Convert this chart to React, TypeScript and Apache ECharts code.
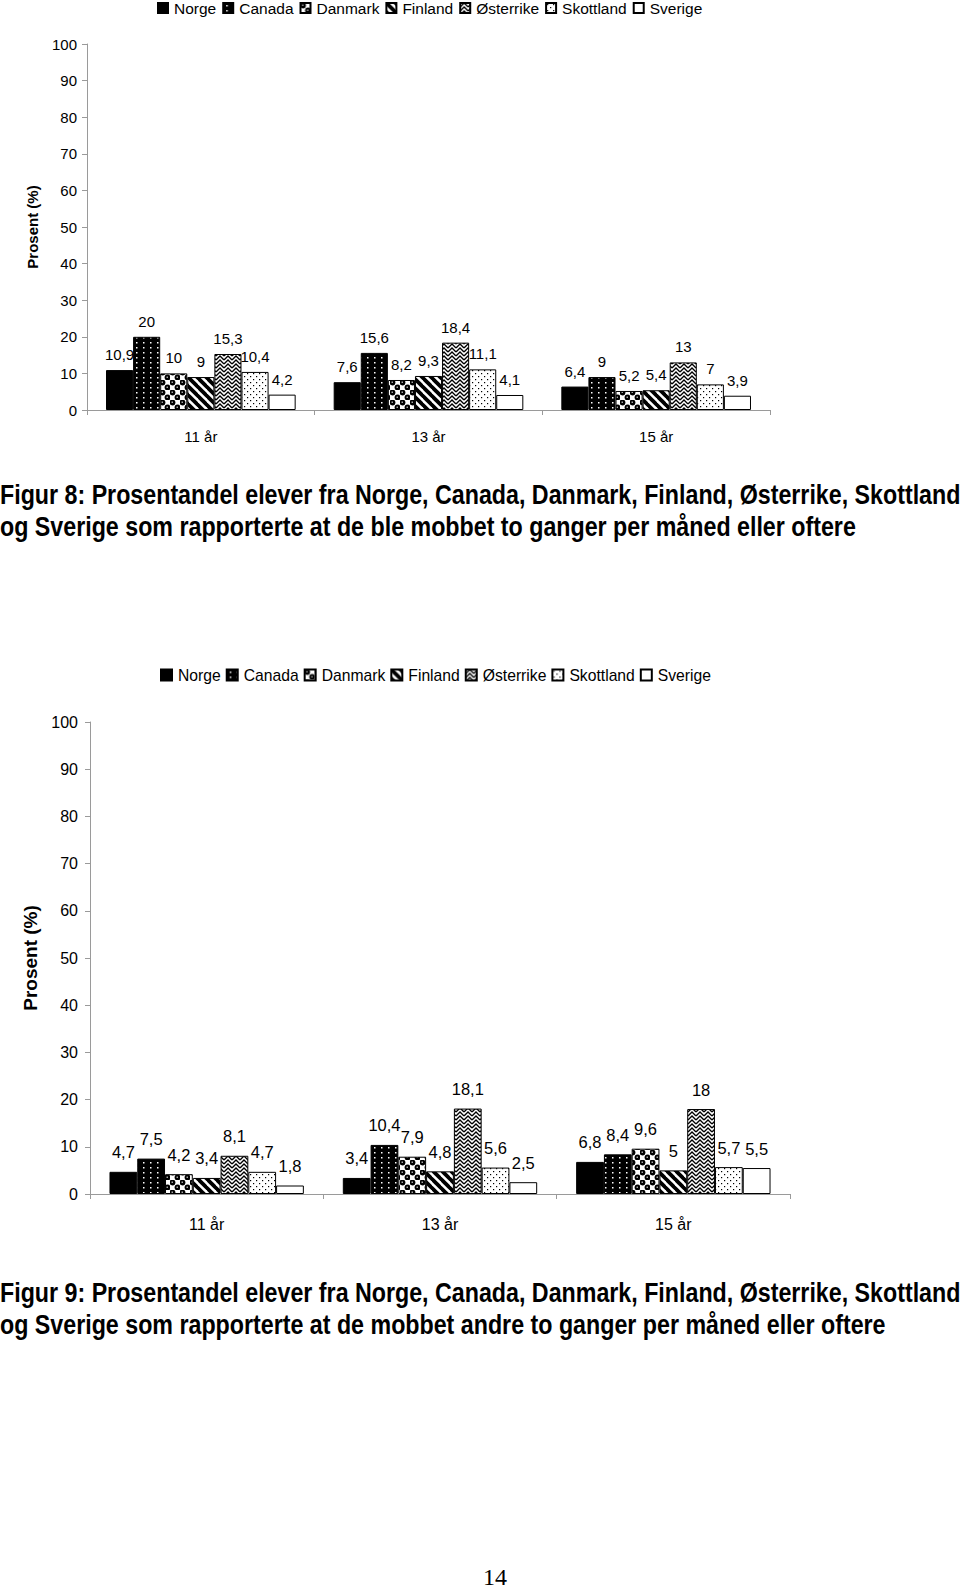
import React, { useEffect, useRef } from "react";
import * as echarts from "echarts";

const countries = ["Norge", "Canada", "Danmark", "Finland", "Østerrike", "Skottland", "Sverige"];
const ages = ["11 år", "13 år", "15 år"];

// Figur 8 values (per country, by age 11, 13, 15)
const f8Norge = [10.9, 7.6, 6.4];
const f8Canada = [20, 15.6, 9];
const f8Danmark = [10, 8.2, 5.2];
const f8Finland = [9, 9.3, 5.4];
const f8Osterrike = [15.3, 18.4, 13];
const f8Skottland = [10.4, 11.1, 7];
const f8Sverige = [4.2, 4.1, 3.9];

// Figur 9 values
const f9Norge = [4.7, 3.4, 6.8];
const f9Canada = [7.5, 10.4, 8.4];
const f9Danmark = [4.2, 7.9, 9.6];
const f9Finland = [3.4, 4.8, 5];
const f9Osterrike = [8.1, 18.1, 18];
const f9Skottland = [4.7, 5.6, 5.7];
const f9Sverige = [1.8, 2.5, 5.5];

const fig8Data = [f8Norge, f8Canada, f8Danmark, f8Finland, f8Osterrike, f8Skottland, f8Sverige];
const fig9Data = [f9Norge, f9Canada, f9Danmark, f9Finland, f9Osterrike, f9Skottland, f9Sverige];

const title8a = "Figur 8: Prosentandel elever fra Norge, Canada, Danmark, Finland, Østerrike, Skottland";
const title8b = "og Sverige som rapporterte at de ble mobbet to ganger per måned eller oftere";
const title9a = "Figur 9: Prosentandel elever fra Norge, Canada, Danmark, Finland, Østerrike, Skottland";
const title9b = "og Sverige som rapporterte at de mobbet andre to ganger per måned eller oftere";
const pageNo = "14";

const SANS = "'Liberation Sans', Arial, sans-serif";

function makeCanvas(w: number, h: number, draw: (ctx: CanvasRenderingContext2D) => void) {
  const c = document.createElement("canvas");
  c.width = w;
  c.height = h;
  const ctx = c.getContext("2d")!;
  draw(ctx);
  return c;
}

function makeFills(): any[] {
  const canada = makeCanvas(7, 5, (ctx) => {
    ctx.fillStyle = "#000";
    ctx.fillRect(0, 0, 7, 5);
    ctx.fillStyle = "#fff";
    ctx.fillRect(3, 2, 1.5, 1.5);
  });
  const danmark = makeCanvas(10, 10, (ctx) => {
    ctx.fillStyle = "#fff";
    ctx.fillRect(0, 0, 10, 10);
    ctx.fillStyle = "#000";
    for (const [cx, cy] of [[2.5, 2.5], [7.5, 7.5]]) {
      ctx.beginPath();
      ctx.arc(cx, cy, 2.9, 0, Math.PI * 2);
      ctx.fill();
    }
    ctx.fillStyle = "#fff";
    for (const [cx, cy] of [[1.6, 1.6], [6.6, 6.6]]) {
      ctx.fillRect(cx, cy, 1.2, 1.2);
    }
  });
  const finland = makeCanvas(9, 9, (ctx) => {
    ctx.fillStyle = "#fff";
    ctx.fillRect(0, 0, 9, 9);
    ctx.strokeStyle = "#000";
    ctx.lineWidth = 3.8;
    for (const c of [-9, 0, 9]) {
      ctx.beginPath();
      ctx.moveTo(-1, c - 1);
      ctx.lineTo(10, c + 10);
      ctx.stroke();
    }
  });
  const osterrike = makeCanvas(8, 8, (ctx) => {
    ctx.fillStyle = "#fff";
    ctx.fillRect(0, 0, 8, 8);
    ctx.strokeStyle = "#000";
    ctx.lineWidth = 1.4;
    for (const y0 of [-4, 0, 4, 8]) {
      ctx.beginPath();
      ctx.moveTo(0, y0 + 4);
      ctx.lineTo(4, y0);
      ctx.lineTo(8, y0 + 4);
      ctx.stroke();
    }
  });
  const skottland = makeCanvas(6, 6, (ctx) => {
    ctx.fillStyle = "#fff";
    ctx.fillRect(0, 0, 6, 6);
    ctx.fillStyle = "#000";
    ctx.fillRect(1, 1, 1.2, 1.2);
    ctx.fillRect(4, 4, 1.2, 1.2);
  });
  return [
    "#000",
    { image: canada, repeat: "repeat" },
    { image: danmark, repeat: "repeat" },
    { image: finland, repeat: "repeat" },
    { image: osterrike, repeat: "repeat" },
    { image: skottland, repeat: "repeat" },
    "#fff",
  ];
}

const fmt = (p: any) => String(p.value).replace(".", ",");

export default function App() {
  const ref = useRef<HTMLDivElement>(null);
  useEffect(() => {
    if (!ref.current) return;
    const chart = echarts.init(ref.current, undefined, { renderer: "svg" });
    const fills = makeFills();
    const axisGray = "#9a9a9a";

    const mkX = (gridIndex: number, size: number, margin: number) => ({
      type: "category",
      gridIndex,
      data: ages,
      axisLine: { lineStyle: { color: axisGray, width: 1 } },
      axisTick: { show: true, length: 5, lineStyle: { color: axisGray } },
      axisLabel: { color: "#000", fontFamily: SANS, fontSize: size, margin },
      splitLine: { show: false },
    });
    const mkY = (gridIndex: number, size: number, margin: number, nameGap: number, nameSize: number) => ({
      type: "value",
      gridIndex,
      min: 0,
      max: 100,
      interval: 10,
      name: "Prosent (%)",
      nameLocation: "middle",
      nameGap,
      nameTextStyle: { color: "#000", fontFamily: SANS, fontWeight: "bold", fontSize: nameSize },
      axisLine: { show: true, lineStyle: { color: axisGray, width: 1 } },
      axisTick: { show: true, length: 5, lineStyle: { color: axisGray } },
      axisLabel: { color: "#000", fontFamily: SANS, fontSize: size, margin },
      splitLine: { show: false },
    });

    const mkSeries = (data: number[][], idx: number, size: number, dist: number) =>
      countries.map((name, i) => ({
        type: "bar",
        name,
        xAxisIndex: idx,
        yAxisIndex: idx,
        data: data[i],
        barGap: "0%",
        barCategoryGap: "16.7%",
        itemStyle: { color: fills[i], borderColor: "#000", borderWidth: 1 },
        label: {
          show: true,
          position: "top",
          distance: dist,
          formatter: fmt,
          color: "#000",
          fontFamily: SANS,
          fontSize: size,
        },
      }));

    const titleText = (text: string, y: number) => ({
      type: "text",
      x: 0,
      y,
      scaleX: 0.83,
      style: {
        text,
        font: `bold 28px ${SANS}`,
        fill: "#000",
        textVerticalAlign: "middle",
      },
    });

    const option: any = {
      animation: false,
      backgroundColor: "#fff",
      legend: [
        {
          data: countries,
          left: 157,
          top: 0,
          padding: 0,
          itemWidth: 10,
          itemHeight: 10,
          itemGap: 6,
          icon: "rect",
          selectedMode: false,
          textStyle: { color: "#000", fontFamily: SANS, fontSize: 15.5, padding: [0, 0, 0, 1] },
        },
        {
          data: countries,
          left: 160,
          top: 667,
          padding: 0,
          itemWidth: 11,
          itemHeight: 11,
          itemGap: 5,
          icon: "rect",
          selectedMode: false,
          textStyle: { color: "#000", fontFamily: SANS, fontSize: 15.7, padding: [0, 0, 0, 1] },
        },
      ],
      grid: [
        { left: 87, top: 44, width: 683, height: 366, containLabel: false },
        { left: 90, top: 722, width: 700, height: 472, containLabel: false },
      ],
      xAxis: [mkX(0, 15, 19), mkX(1, 16, 22)],
      yAxis: [mkY(0, 15, 10, 47, 15), mkY(1, 16, 12, 45, 19)],
      series: [...mkSeries(fig8Data, 0, 15, 8), ...mkSeries(fig9Data, 1, 16.5, 11)],
      graphic: [
        titleText(title8a, 494),
        titleText(title8b, 526),
        titleText(title9a, 1292),
        titleText(title9b, 1324),
        {
          type: "text",
          x: 495,
          y: 1577,
          style: {
            text: pageNo,
            font: "24px 'Liberation Serif', 'Times New Roman', serif",
            fill: "#000",
            textAlign: "center",
            textVerticalAlign: "middle",
          },
        },
      ],
    };
    chart.setOption(option);
    return () => chart.dispose();
  }, []);
  return (
    <div
      ref={ref}
      style={{ position: "absolute", left: 0, top: 0, width: 960, height: 1589, background: "#fff" }}
    />
  );
}
